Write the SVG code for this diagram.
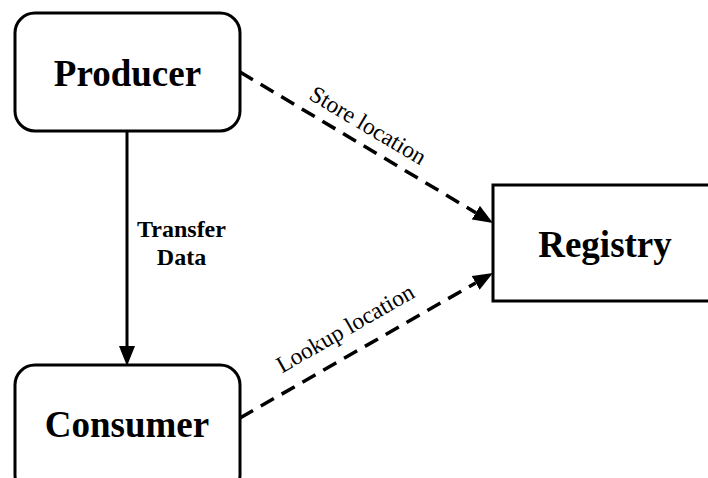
<svg xmlns="http://www.w3.org/2000/svg" width="708" height="478" viewBox="0 0 708 478">
  <style>
    .box { fill: #ffffff; stroke: #000000; stroke-width: 3; }
    .title { font-family: "Liberation Serif", "Times New Roman", serif; font-weight: bold; font-size: 37px; fill: #000000; text-anchor: middle; }
    .label { font-family: "Liberation Serif", "Times New Roman", serif; font-size: 23.5px; fill: #000000; text-anchor: middle; }
    .blabel { font-family: "Liberation Serif", "Times New Roman", serif; font-weight: bold; font-size: 24px; fill: #000000; text-anchor: middle; }
    .solid { stroke: #000000; stroke-width: 3; fill: none; }
    .dashed { stroke: #000000; stroke-width: 3.5; fill: none; stroke-dasharray: 15 9; }
  </style>
  <defs>
    <marker id="arrow" markerUnits="userSpaceOnUse" markerWidth="20" markerHeight="16" refX="0" refY="8" orient="auto">
      <path d="M0,0 L20,8 L0,16 z" fill="#000000"/>
    </marker>
  </defs>
  <rect width="708" height="478" fill="#ffffff"/>

  <g id="connectors">
    <line class="solid" x1="127" y1="131" x2="127" y2="346" marker-end="url(#arrow)"/>
    <line class="dashed" x1="240" y1="72" x2="475.8" y2="212.7" marker-end="url(#arrow)"/>
    <line class="dashed" x1="240" y1="418" x2="475.6" y2="282.9" marker-end="url(#arrow)"/>
    <text class="blabel" x="181.5" y="237">Transfer</text>
    <text class="blabel" x="181.5" y="265">Data</text>
    <text class="label" x="364" y="132" transform="rotate(30.8 364 132)">Store location</text>
    <text class="label" x="349" y="335" transform="rotate(-29.8 349 335)">Lookup location</text>
  </g>

  <g id="producer">
    <rect class="box" x="15" y="13" width="225" height="118" rx="20" ry="20"/>
    <text class="title" x="127.5" y="86">Producer</text>
  </g>

  <g id="consumer">
    <rect class="box" x="15" y="365" width="225" height="130" rx="20" ry="20"/>
    <text class="title" x="127" y="437">Consumer</text>
  </g>

  <g id="registry">
    <rect class="box" x="493" y="185" width="230" height="116"/>
    <text class="title" x="605" y="257">Registry</text>
  </g>
</svg>
